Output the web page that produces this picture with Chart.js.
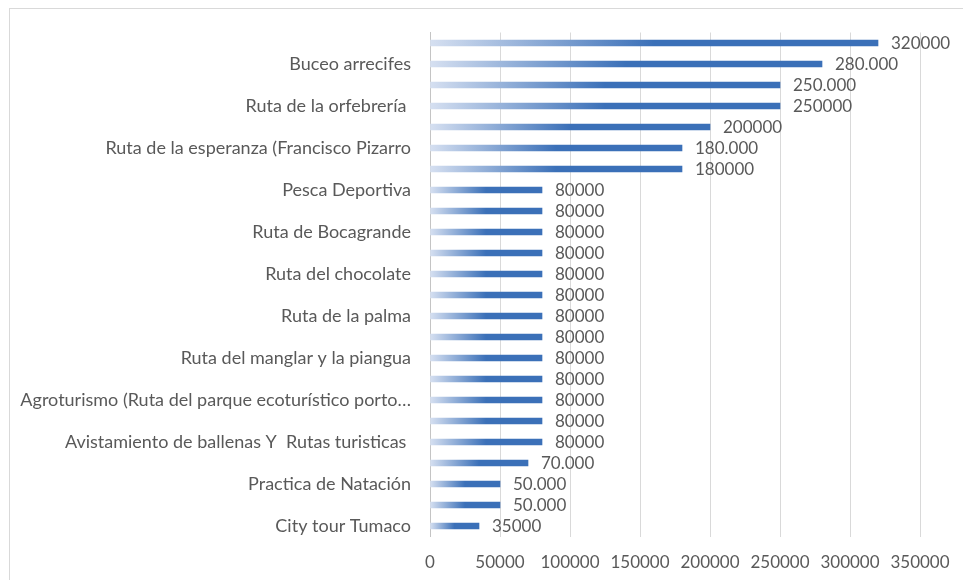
<!DOCTYPE html>
<html>
<head>
<meta charset="utf-8">
<script src="https://cdn.jsdelivr.net/npm/chart.js@4"></script>
<style>
  body { margin: 0; background: #fff; }
  #wrap { width: 963px; height: 580px; position: relative; }
</style>
</head>
<body>
<div id="wrap"><canvas id="chart"></canvas></div>
<script>
// categories top to bottom; only every other one carries a visible name
const categories = [
    '', 'Buceo arrecifes', '', 'Ruta de la orfebrería ', '', 'Ruta de la esperanza (Francisco Pizarro', '',
    'Pesca Deportiva', '', 'Ruta de Bocagrande', '', 'Ruta del chocolate', '', 'Ruta de la palma', '',
    'Ruta del manglar y la piangua', '', 'Agroturismo (Ruta del parque ecoturístico porto…', '',
    'Avistamiento de ballenas Y  Rutas turisticas ', '', 'Practica de Natación', '', 'City tour Tumaco'
];
// value labels as written on the chart (mixed formats)
const valueLabels = [
    '320000', '280.000', '250.000', '250000', '200000', '180.000', '180000',
    '80000', '80000', '80000', '80000', '80000', '80000', '80000',
    '80000', '80000', '80000', '80000', '80000', '80000',
    '70.000', '50.000', '50.000', '35000'
];
const values = valueLabels.map(s => Number(s.replace(/\./g, '')));
const xTicks = [0, 50000, 100000, 150000, 200000, 250000, 300000, 350000];

const textColor = '#595959';
const font = { family: 'Lato', size: 17 };
const catFont = { family: 'Lato', size: 18 };
const darkBlue = '#3b70b8';

const ctx = document.getElementById('chart').getContext('2d');

const frame = {
    id: 'frame',
    beforeDraw(chart) {
        const c = chart.ctx;
        c.save();
        c.fillStyle = '#fff';
        c.fillRect(0, 0, chart.width, chart.height);
        c.strokeStyle = '#d9d9d9';
        c.lineWidth = 1;
        c.strokeRect(9.5, 8.5, 1000, 600);
        c.restore();
    }
};

const barValues = {
    id: 'barValues',
    afterDatasetsDraw(chart) {
        const c = chart.ctx;
        c.save();
        c.fillStyle = textColor;
        c.font = font.size + 'px ' + font.family;
        c.textAlign = 'left';
        c.textBaseline = 'middle';
        chart.getDatasetMeta(0).data.forEach((bar, i) => {
            c.fillText(valueLabels[i], bar.x + 13, bar.y + 1);
        });
        c.restore();
    }
};

const config = {
    type: 'bar',
    data: {
        labels: categories,
        datasets: [{
            data: values,
            barThickness: 6,
            backgroundColor: (c) => {
                const chart = c.chart;
                const x = chart.scales.x;
                if (!chart.chartArea || !x || c.dataIndex === undefined) return darkBlue;
                const x0 = x.getPixelForValue(0);
                const x1 = x.getPixelForValue(values[c.dataIndex]);
                const g = chart.ctx.createLinearGradient(x0, 0, x1, 0);
                g.addColorStop(0, '#d6e0f1');
                g.addColorStop(0.5, darkBlue);
                g.addColorStop(1, darkBlue);
                return g;
            },
        }]
    },
    options: {
        indexAxis: 'y',
        responsive: true,
        maintainAspectRatio: false,
        animation: false,
        layout: { padding: { top: 32.5, right: 43, left: 0, bottom: 0 } },
        plugins: {
            legend: { display: false },
            tooltip: { enabled: false }
        },
        scales: {
            x: {
                min: 0,
                max: 350000,
                afterBuildTicks: (s) => { s.ticks = xTicks.map(v => ({ value: v })); },
                afterFit: (s) => {
                    s.height = 43.5;
                    s.paddingLeft = 0;
                    s.paddingRight = 0;
                },
                grid: { color: '#d9d9d9', drawTicks: false },
                border: { display: false },
                ticks: {
                    color: textColor, font: font, padding: 16, maxRotation: 0,
                    callback: (v) => String(v)
                }
            },
            y: {
                afterFit: (s) => { s.width = 430; },
                grid: { display: false, drawTicks: false },
                border: { color: '#c4c4c4', width: 1 },
                ticks: { color: textColor, font: catFont, padding: 19, autoSkip: false }
            }
        }
    },
    plugins: [frame, barValues]
};

const myChart = new Chart(ctx, config);
</script>
</body>
</html>
